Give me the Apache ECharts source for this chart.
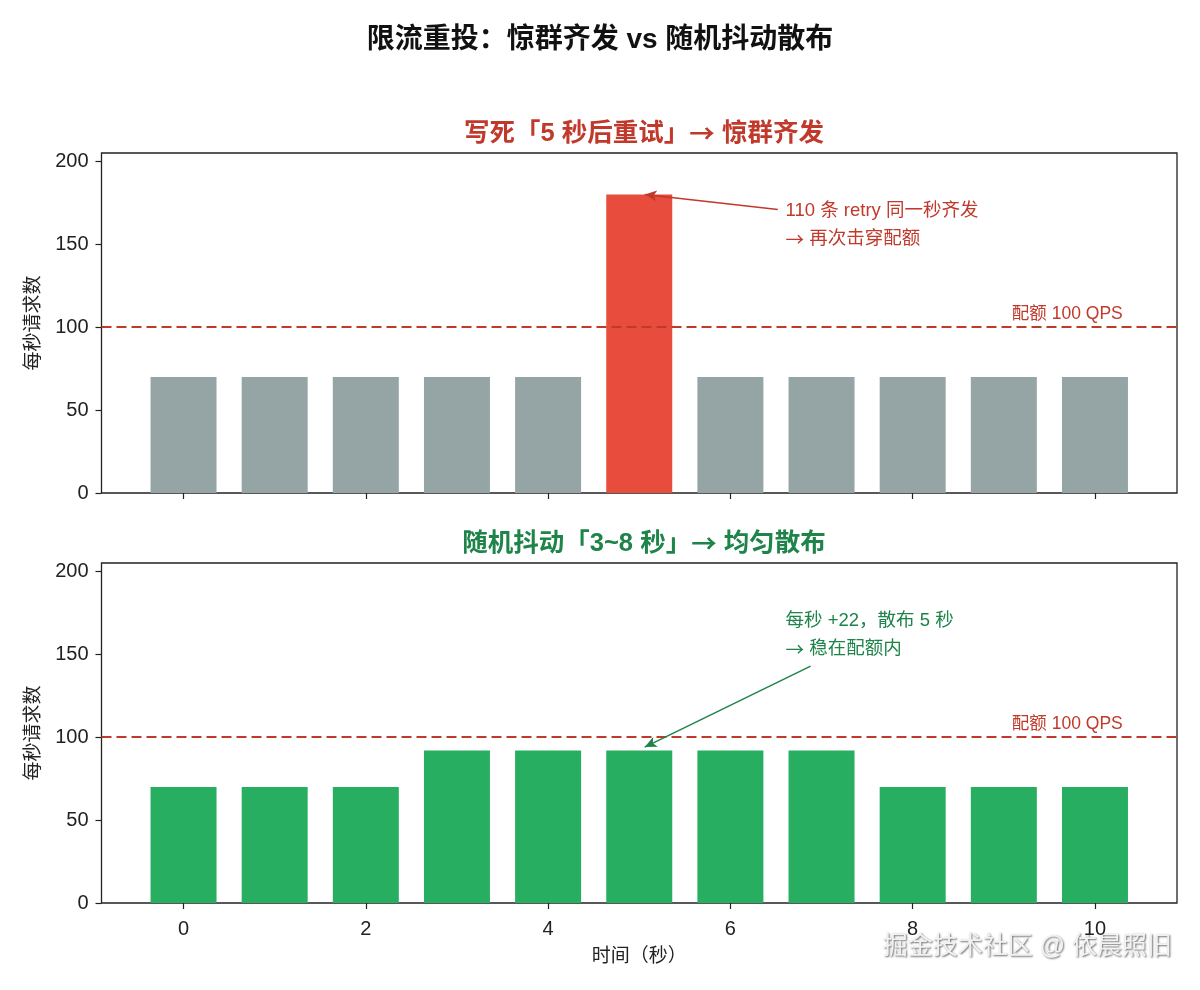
<!DOCTYPE html>
<html>
<head>
<meta charset="utf-8">
<title>限流重投：惊群齐发 vs 随机抖动散布</title>
<script src="https://cdn.jsdelivr.net/npm/echarts@6/dist/echarts.min.js"></script>
<style>
    html, body { margin: 0; padding: 0; background: #fff; }
    #chart { width: 1200px; height: 990px; }
</style>
</head>
<body>
<div id="chart"></div>
<script>
// 数据
var seconds = [0, 1, 2, 3, 4, 5, 6, 7, 8, 9, 10];
var stormCounts = [70, 70, 70, 70, 70, 180, 70, 70, 70, 70, 70];   // 写死 5 秒后重试
var jitterCounts = [70, 70, 70, 92, 92, 92, 92, 92, 70, 70, 70];   // 随机抖动 3~8 秒
var quota = 100;
var xTicks = [0, 2, 4, 6, 8, 10];
var yTicks = [0, 50, 100, 150, 200];
var stormNote = ['110 条 retry 同一秒齐发', '{ar|→} 再次击穿配额'];
var jitterNote = ['每秒 +22，散布 5 秒', '{ar|→} 稳在配额内'];

var FONT = '"Liberation Sans", "Noto Sans CJK SC", sans-serif';
var CJK = '"Noto Sans CJK SC", sans-serif';
var RED = '#c0392b';
var GREEN = '#1e8449';

var chart = echarts.init(document.getElementById('chart'));

// 箭头用 CJK 字体画，宽一点
function arrowRich(size, color, bold) {
    return { ar: { fontFamily: CJK, fontSize: size, color: color, fontWeight: bold ? 'bold' : 'normal' } };
}

function xAxisOf(idx, withLabels) {
    return {
        type: 'value',
        gridIndex: idx,
        min: -0.9,
        max: 10.9,
        axisLine: { show: false, onZero: false },
        splitLine: { show: false },
        axisTick: { show: true, inside: false, length: 6, customValues: xTicks,
            lineStyle: { color: '#222', width: 1.2 } },
        axisLabel: { show: withLabels, customValues: xTicks, margin: 16,
            fontSize: 20, color: '#222', fontFamily: FONT },
        name: withLabels ? '时间（秒）' : '',
        nameLocation: 'middle',
        nameGap: 44,
        nameTextStyle: { fontSize: 19, color: '#222', fontFamily: FONT }
    };
}

function yAxisOf(idx) {
    return {
        type: 'value',
        gridIndex: idx,
        min: 0,
        max: 205,
        axisLine: { show: false, onZero: false },
        splitLine: { show: false },
        axisTick: { show: true, length: 6, customValues: yTicks,
            lineStyle: { color: '#222', width: 1.2 } },
        axisLabel: { customValues: yTicks, margin: 13,
            fontSize: 20, color: '#222', fontFamily: FONT },
        name: '每秒请求数',
        nameLocation: 'middle',
        nameGap: 58,
        nameRotate: 90,
        nameTextStyle: { fontSize: 19, color: '#222', fontFamily: FONT }
    };
}

function noteLabel(lines, color) {
    return {
        show: true,
        position: 'right',
        distance: 0,
        formatter: lines.join('\n'),
        color: color,
        fontSize: 18.5,
        lineHeight: 28,
        fontFamily: FONT,
        rich: { ar: { fontFamily: CJK, fontSize: 18.5, color: color, lineHeight: 28 } }
    };
}

function barSeries(idx, values, colorFn, note, noteColor, noteAt, arrowFrom, arrowTo) {
    return {
        type: 'bar',
        xAxisIndex: idx,
        yAxisIndex: idx,
        barWidth: 66,
        emphasis: { disabled: true },
        data: seconds.map(function (s, i) {
            return { value: [s, values[i]], itemStyle: { color: colorFn(values[i]) } };
        }),
        markLine: {
            silent: true,
            symbol: 'none',
            label: { show: false },
            data: [
                { yAxis: quota, lineStyle: { color: RED, type: [10, 5], width: 2 } },
                [
                    { coord: arrowFrom, symbol: 'none', lineStyle: { color: noteColor, type: 'solid', width: 1.5 } },
                    { coord: arrowTo, symbol: 'arrow', symbolSize: [8, 12] }
                ]
            ]
        },
        markPoint: {
            silent: true,
            symbol: 'circle',
            symbolSize: 1,
            itemStyle: { color: 'rgba(0,0,0,0)' },
            data: [
                {
                    coord: [10.31, 107.6],
                    label: { show: true, position: 'left', distance: 0, formatter: '配额 ' + quota + ' QPS',
                        color: RED, fontSize: 17.5, fontFamily: FONT }
                },
                { coord: noteAt, label: noteLabel(note, noteColor) }
            ]
        }
    };
}

var option = {
    animation: false,
    backgroundColor: '#fff',
    title: [
        { text: '限流重投：惊群齐发 vs 随机抖动散布', left: 'center', top: 21,
            textStyle: { fontSize: 28, fontWeight: 'bold', color: '#111', fontFamily: FONT } },
        { text: '写死「5 秒后重试」{ar|→} 惊群齐发', left: 639, textAlign: 'center', top: 116,
            textStyle: { fontSize: 25.5, fontWeight: 'bold', color: RED, fontFamily: FONT,
                rich: arrowRich(25.5, RED, true) } },
        { text: '随机抖动「3~8 秒」{ar|→} 均匀散布', left: 639, textAlign: 'center', top: 526,
            textStyle: { fontSize: 25.5, fontWeight: 'bold', color: GREEN, fontFamily: FONT,
                rich: arrowRich(25.5, GREEN, true) } }
    ],
    grid: [
        { left: 101.5, right: 23, top: 153, height: 340, show: true,
            borderColor: '#222', borderWidth: 1.3, backgroundColor: '#fff' },
        { left: 101.5, right: 23, top: 563, height: 340, show: true,
            borderColor: '#222', borderWidth: 1.3, backgroundColor: '#fff' }
    ],
    xAxis: [xAxisOf(0, false), xAxisOf(1, true)],
    yAxis: [yAxisOf(0), yAxisOf(1)],
    series: [
        barSeries(0, stormCounts, function (v) { return v > quota ? '#e74c3c' : '#95a5a6'; },
            stormNote, RED, [6.6, 161.5], [6.52, 170.9], [5.06, 180]),
        barSeries(1, jitterCounts, function () { return '#27ae60'; },
            jitterNote, GREEN, [6.6, 161.5], [6.88, 142.8], [5.06, 94])
    ],
    graphic: [
        {
            type: 'text',
            right: 28,
            top: 935,
            style: {
                text: '掘金技术社区 @ 依晨照旧',
                fill: '#f2f2f2',
                font: '25px ' + FONT,
                textShadowColor: 'rgba(0,0,0,0.6)',
                textShadowBlur: 2,
                textShadowOffsetX: 1,
                textShadowOffsetY: 1
            }
        }
    ]
};

chart.setOption(option);
</script>
</body>
</html>
